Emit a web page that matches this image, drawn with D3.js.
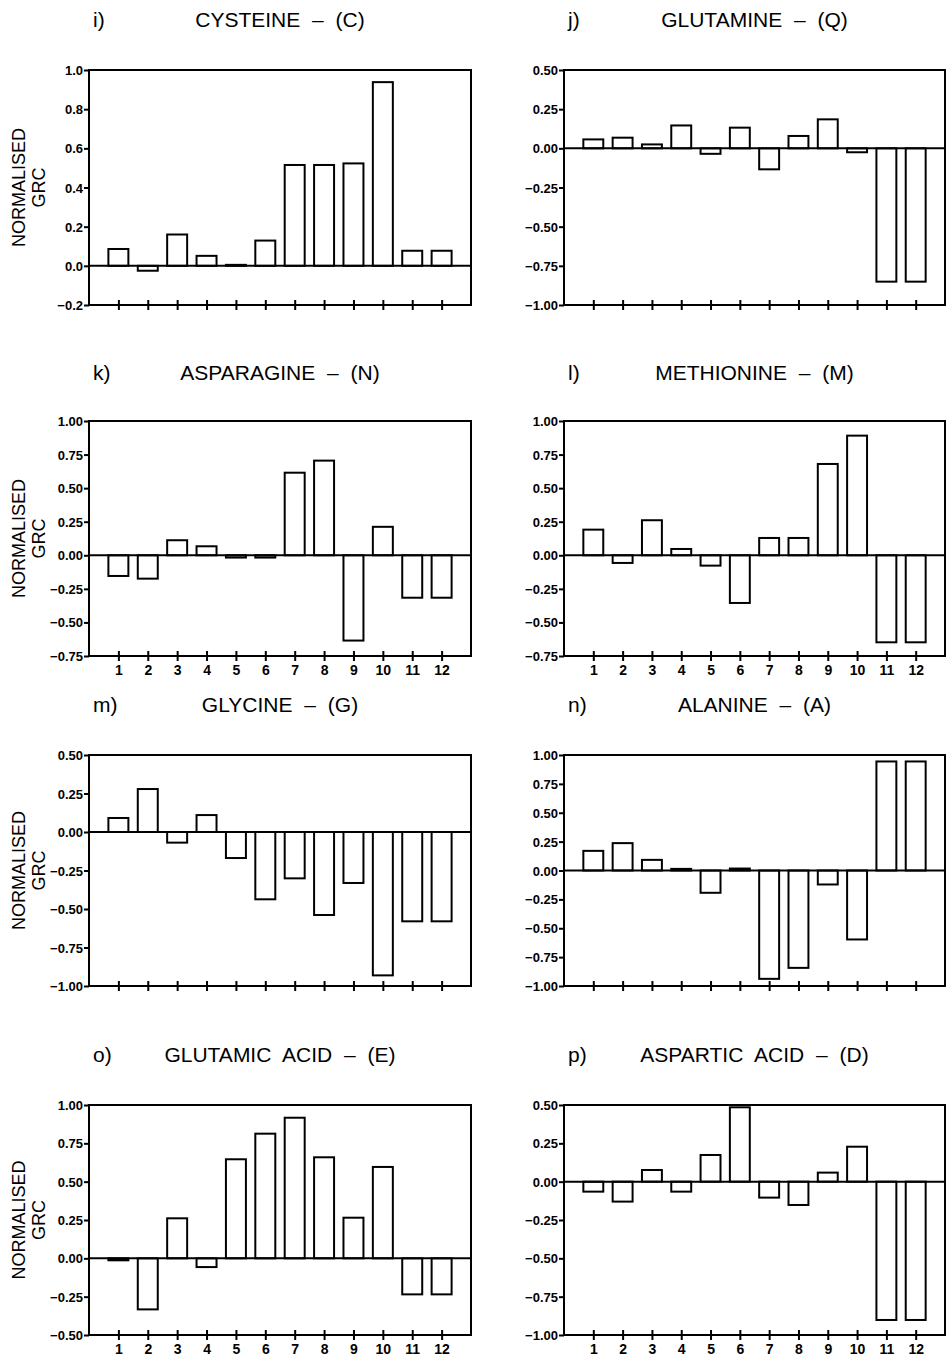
<!DOCTYPE html>
<html>
<head>
<meta charset="utf-8">
<script src="https://cdn.jsdelivr.net/npm/d3@7"></script>
<style>
body { margin: 0; background: #fff; }
text { font-family: Arial, "Liberation Sans", Helvetica, sans-serif; fill: #000; }
</style>
</head>
<body>
<div id="chart"></div>
<script>
// sites along the x axis
var sites = [1, 2, 3, 4, 5, 6, 7, 8, 9, 10, 11, 12];

// normalised GRC per amino acid
var cysteine    = [0.086, -0.025, 0.16, 0.051, 0.005, 0.129, 0.515, 0.515, 0.523, 0.938, 0.077, 0.077];
var glutamine   = [0.057, 0.068, 0.025, 0.146, -0.035, 0.132, -0.134, 0.079, 0.185, -0.025, -0.851, -0.851];
var asparagine  = [-0.154, -0.174, 0.112, 0.067, -0.017, -0.017, 0.615, 0.705, -0.635, 0.212, -0.316, -0.316];
var methionine  = [0.191, -0.057, 0.261, 0.047, -0.077, -0.355, 0.129, 0.129, 0.68, 0.891, -0.648, -0.648];
var glycine     = [0.091, 0.279, -0.069, 0.11, -0.169, -0.437, -0.301, -0.539, -0.331, -0.931, -0.58, -0.58];
var alanine     = [0.17, 0.237, 0.092, 0.014, -0.193, 0.017, -0.938, -0.843, -0.121, -0.597, 0.944, 0.944];
var glutamicAcid = [-0.013, -0.333, 0.261, -0.057, 0.646, 0.813, 0.917, 0.659, 0.265, 0.596, -0.235, -0.235];
var asparticAcid = [-0.065, -0.13, 0.076, -0.065, 0.174, 0.485, -0.104, -0.152, 0.059, 0.228, -0.902, -0.902];

// y tick labels
var ticksCys  = [-0.2, 0.0, 0.2, 0.4, 0.6, 0.8, 1.0];
var ticksHalf = [-1.0, -0.75, -0.5, -0.25, 0.0, 0.25, 0.5];
var ticksK    = [-0.75, -0.5, -0.25, 0.0, 0.25, 0.5, 0.75, 1.0];
var ticksFull = [-1.0, -0.75, -0.5, -0.25, 0.0, 0.25, 0.5, 0.75, 1.0];
var ticksE    = [-0.5, -0.25, 0.0, 0.25, 0.5, 0.75, 1.0];

var panels = [
	{tag: "i)", name: "CYSTEINE", code: "C", values: cysteine, ticks: ticksCys, fmt: ".1f", col: 0, row: 0, nums: false},
	{tag: "j)", name: "GLUTAMINE", code: "Q", values: glutamine, ticks: ticksHalf, fmt: ".2f", col: 1, row: 0, nums: false},
	{tag: "k)", name: "ASPARAGINE", code: "N", values: asparagine, ticks: ticksK, fmt: ".2f", col: 0, row: 1, nums: true},
	{tag: "l)", name: "METHIONINE", code: "M", values: methionine, ticks: ticksK, fmt: ".2f", col: 1, row: 1, nums: true},
	{tag: "m)", name: "GLYCINE", code: "G", values: glycine, ticks: ticksHalf, fmt: ".2f", col: 0, row: 2, nums: false},
	{tag: "n)", name: "ALANINE", code: "A", values: alanine, ticks: ticksFull, fmt: ".2f", col: 1, row: 2, nums: false},
	{tag: "o)", name: "GLUTAMIC ACID", code: "E", values: glutamicAcid, ticks: ticksE, fmt: ".2f", col: 0, row: 3, nums: true},
	{tag: "p)", name: "ASPARTIC ACID", code: "D", values: asparticAcid, ticks: ticksHalf, fmt: ".2f", col: 1, row: 3, nums: true}
];

var width = 951, height = 1361;
var colLeft = [89, 564], colRight = [471, 945];
var rowTop = [70, 421, 755, 1105], rowBottom = [305, 656, 986, 1335];
var titleY = [27, 380, 712, 1062];
var barHalf = 0.34;

var svg = d3.select("#chart")
	.append("svg")
	.attr("width", width)
	.attr("height", height)
	.style("background", "#fff");

panels.forEach(function(p) {
	var left = colLeft[p.col], right = colRight[p.col];
	var top = rowTop[p.row], bottom = rowBottom[p.row];
	var ext = d3.extent(p.ticks);

	var x = d3.scaleLinear().domain([0, 13]).range([left, right]);
	var y = d3.scaleLinear().domain(ext).range([bottom, top]);

	var g = svg.append("g");

	// titles
	g.append("text")
		.attr("x", left + 4)
		.attr("y", titleY[p.row])
		.style("font-size", "21px")
		.text(p.tag);
	g.append("text")
		.attr("x", (left + right) / 2)
		.attr("y", titleY[p.row])
		.attr("text-anchor", "middle")
		.style("font-size", "21px")
		.style("word-spacing", "6px")
		.text(p.name + " \u2013 (" + p.code + ")");

	// y axis
	var yAxis = g.append("g")
		.attr("transform", "translate(" + left + ",0)")
		.call(d3.axisLeft(y).tickValues(p.ticks).tickFormat(d3.format(p.fmt)).tickSize(5).tickPadding(1).tickSizeOuter(0));
	yAxis.select(".domain").remove();
	yAxis.selectAll("line").attr("stroke", "#000").attr("stroke-width", 2);
	yAxis.selectAll("text")
		.style("font-size", "13px")
		.style("font-weight", "bold")
		.attr("dy", "0.35em")
		.attr("fill", "#000");

	// x axis ticks (cross marks)
	var xAxis = g.append("g")
		.attr("transform", "translate(0," + bottom + ")")
		.call(d3.axisBottom(x).tickValues(sites).tickSizeInner(5).tickSizeOuter(0).tickPadding(4)
			.tickFormat(p.nums ? d3.format("d") : function() { return ""; }));
	xAxis.select(".domain").remove();
	xAxis.selectAll("line").attr("y1", -5).attr("y2", 5).attr("stroke", "#000").attr("stroke-width", 2);
	xAxis.selectAll("text")
		.style("font-size", "14px")
		.style("font-weight", "bold")
		.attr("fill", "#000");

	// bars
	g.selectAll(".bar")
		.data(p.values)
		.enter()
		.append("rect")
			.attr("class", "bar")
			.attr("x", function(d, i) { return x(sites[i] - barHalf); })
			.attr("width", function(d, i) { return x(sites[i] + barHalf) - x(sites[i] - barHalf); })
			.attr("y", function(d) { return y(Math.max(0, d)); })
			.attr("height", function(d) { return Math.abs(y(d) - y(0)); })
			.attr("fill", "#fff")
			.attr("stroke", "#000")
			.attr("stroke-width", 2);

	// zero line
	g.append("line")
		.attr("x1", left).attr("x2", right)
		.attr("y1", y(0)).attr("y2", y(0))
		.attr("stroke", "#000")
		.attr("stroke-width", 2);

	// frame
	g.append("rect")
		.attr("x", left).attr("y", top)
		.attr("width", right - left).attr("height", bottom - top)
		.attr("fill", "none")
		.attr("stroke", "#000")
		.attr("stroke-width", 2);

	// y label on left column
	if (p.col === 0) {
		var cy = (top + bottom) / 2;
		g.append("text")
			.attr("transform", "translate(25," + cy + ") rotate(-90)")
			.attr("text-anchor", "middle")
			.style("font-size", "18px")
			.text("NORMALISED");
		g.append("text")
			.attr("transform", "translate(45," + cy + ") rotate(-90)")
			.attr("text-anchor", "middle")
			.style("font-size", "18px")
			.text("GRC");
	}
});
</script>
</body>
</html>
